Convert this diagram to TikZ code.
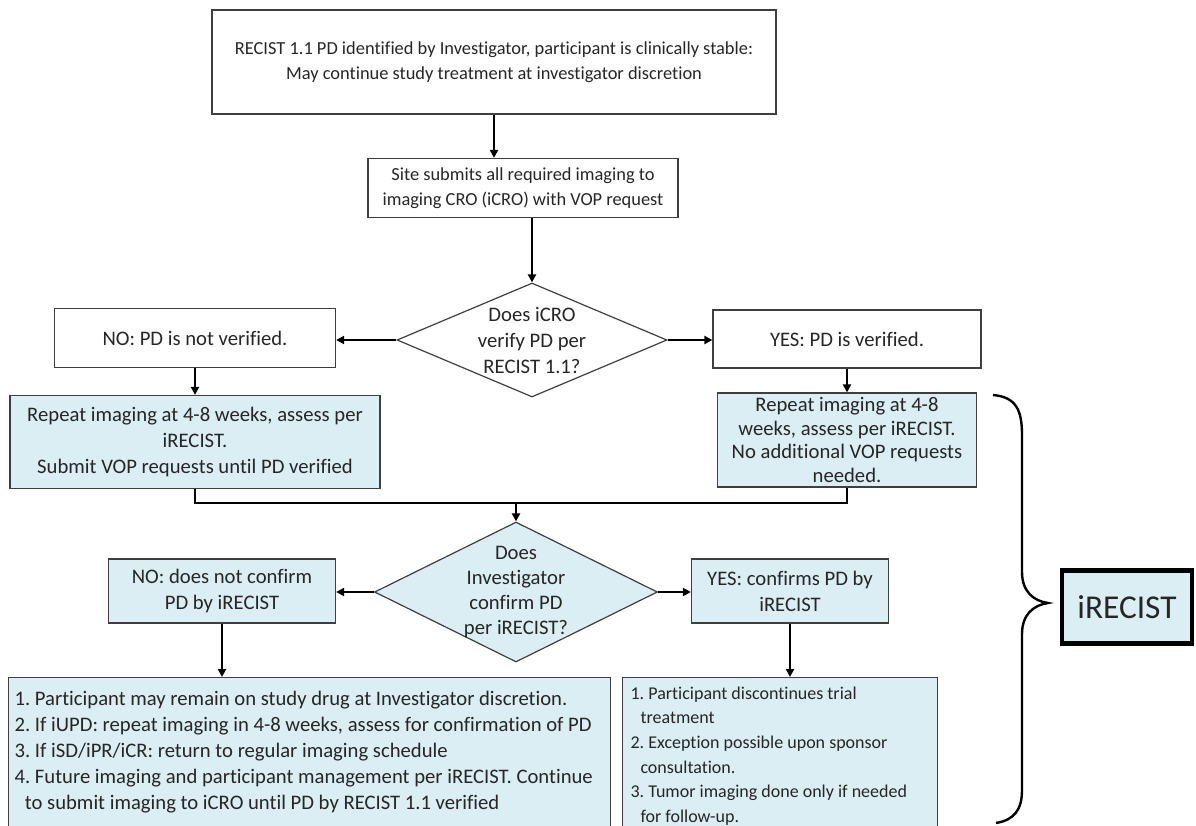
\documentclass[tikz,border=0pt]{standalone}
\usepackage{fontspec}
\setmainfont{Carlito}[Ligatures=NoCommon]
\usetikzlibrary{arrows.meta, positioning, shapes.geometric, calc}
\definecolor{boxline}{HTML}{3F3F3F}
\definecolor{paleblue}{HTML}{DBEEF3}
\definecolor{txtgray}{HTML}{262626}
\newcommand{\fsm}{\fontsize{13.8}{18.5}\selectfont}
\newcommand{\fmd}{\fontsize{15.5}{19.5}\selectfont}
\frenchspacing

\begin{document}
\begin{tikzpicture}[x=0.75pt, y=-0.75pt,
    plainbox/.style={draw=boxline, line width=0.9pt, fill=white, text=txtgray, align=center, inner sep=0pt},
    bluebox/.style={plainbox, fill=paleblue},
    listbox/.style={draw=boxline, line width=0.9pt, fill=paleblue, text=txtgray, anchor=north west, inner ysep=7pt},
    query/.style={diamond, draw=boxline, line width=0.9pt, fill=white, text=txtgray, align=center, inner sep=-3pt, font=\fmd},
    flow/.style={-{Triangle[length=6pt, width=6pt]}, line width=1.6pt},
    link/.style={line width=1.6pt}]
  \useasboundingbox (0,0) rectangle (1196,825);
  \clip (0,0) rectangle (1196,825);

  \node[plainbox, font=\fsm, minimum width=423pt, minimum height=78pt] (start) at (494,62) {RECIST 1.1 PD identified by Investigator, participant is clinically stable:\\May continue study treatment at investigator discretion};
  \node[plainbox, font=\fsm, minimum width=232.5pt, minimum height=44.25pt] (submit) at (523,188) {Site submits all required imaging to\\imaging CRO (iCRO) with VOP request};
  \node[query, aspect=2.37, minimum width=202.5pt, minimum height=85.5pt] (verify) at (532,340) {Does iCRO\\verify PD per\\RECIST 1.1?};
  \node[plainbox, font=\fmd, minimum width=210.75pt, minimum height=44.25pt] (notver) at (195,338) {NO: PD is not verified.};
  \node[plainbox, font=\fmd, minimum width=201pt, minimum height=43.5pt] (isver) at (847,339) {YES: PD is verified.};
  \node[bluebox, font=\fmd, minimum width=277.5pt, minimum height=69.75pt] (repeatno) at (195,442) {Repeat imaging at 4-8 weeks, assess per\\iRECIST.\\Submit VOP requests until PD verified};
  \node[bluebox, font=\fontsize{15.5}{17.6}\selectfont, minimum width=194.25pt, minimum height=70.5pt] (repeatyes) at (847,440) {Repeat imaging at 4-8\\weeks, assess per iRECIST.\\No additional VOP requests\\needed.};
  \node[query, fill=paleblue, aspect=2.02, minimum width=212.25pt, minimum height=105pt, font=\fontsize{15.5}{18.75}\selectfont] (confirm) at (516,592) {Does\\Investigator\\confirm PD\\per iRECIST?};
  \node[bluebox, font=\fmd, minimum width=170.25pt, minimum height=48pt] (notconf) at (222,591) {NO: does not confirm\\PD by iRECIST};
  \node[bluebox, font=\fmd, minimum width=147.75pt, minimum height=48pt] (isconf) at (790,591) {YES: confirms PD by\\iRECIST};
  \node[listbox, font=\fmd, inner xsep=4.5pt, inner ysep=10pt] (stay) at (8,677) {\parbox[c][120pt][t]{442.5pt}{\raggedright
    \mbox{1. Participant may remain on study drug at Investigator discretion.}\\
    \mbox{2. If iUPD: repeat imaging in 4-8 weeks, assess for confirmation of PD}\\
    \mbox{3. If iSD/iPR/iCR: return to regular imaging schedule}\\
    \mbox{4. Future imaging and participant management per iRECIST. Continue}\\
    \mbox{\hspace*{0.5em}to submit imaging to iCRO until PD by RECIST 1.1 verified}}};
  \node[listbox, font=\fontsize{13.5}{18.4}\selectfont, inner xsep=6pt] (stop) at (622,677) {\parbox[c][120pt][t]{224.25pt}{\raggedright
    \mbox{1. Participant discontinues trial}\\
    \mbox{\hspace*{0.55em}treatment}\\
    \mbox{2. Exception possible upon sponsor}\\
    \mbox{\hspace*{0.55em}consultation.}\\
    \mbox{3. Tumor imaging done only if needed}\\
    \mbox{\hspace*{0.55em}for follow-up.}}};
  \node[bluebox, draw=black, line width=3.5pt, font=\fontsize{25}{30}\selectfont, minimum width=97.5pt, minimum height=55pt] (tag) at (1127,607) {iRECIST};

  \draw[flow] (start.south) -- (start.south |- submit.north);
  \draw[flow] (verify.north |- submit.south) -- (verify.north);
  \draw[flow] (verify.west) -- (notver.east |- verify.west);
  \draw[flow] (verify.east) -- (isver.west |- verify.east);
  \draw[flow] (notver.south) -- (repeatno.north);
  \draw[flow] (isver.south) -- (repeatyes.north);
  \coordinate (merge) at ($(confirm.north)+(0,-18)$);
  \draw[link] (repeatno.south) |- (merge) -| (repeatyes.south);
  \draw[flow] (merge) -- (confirm.north);
  \draw[flow] (confirm.west) -- (notconf.east |- confirm.west);
  \draw[flow] (confirm.east) -- (isconf.west |- confirm.east);
  \draw[flow] (notconf.south) -- (notconf.south |- stay.north);
  \draw[flow] (isconf.south) -- (isconf.south |- stop.north);

  \draw[line width=1.8pt] (993,395) .. controls (1016,397) and (1022,410) .. (1022,435) -- (1022,572)
    .. controls (1022,592) and (1034,601) .. (1048,603) .. controls (1034,605) and (1022,614) .. (1022,634)
    -- (1022,790) .. controls (1022,810) and (1014,820) .. (996,823);
\end{tikzpicture}
\end{document}
